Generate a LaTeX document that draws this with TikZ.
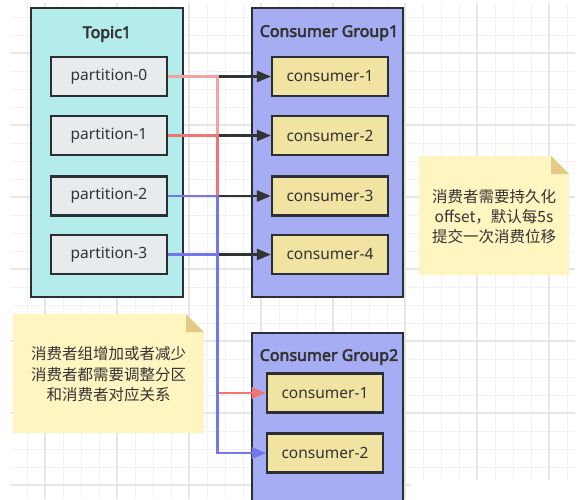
\documentclass[tikz,border=0pt]{standalone}
\usepackage{fontspec}
\setmainfont{Noto Sans}[AutoFakeBold=3.5]
\newfontfamily\cjk{Noto Sans CJK SC}
\usetikzlibrary{arrows.meta,calc}
\definecolor{topicc}{HTML}{B4EBEB}
\definecolor{partc}{HTML}{E8EBEE}
\definecolor{groupc}{HTML}{A7ADF3}
\definecolor{consc}{HTML}{F1E3A2}
\definecolor{notec}{HTML}{FFF5C1}
\definecolor{foldc}{HTML}{E3CB85}
\definecolor{bordc}{HTML}{2B2F33}
\definecolor{txtc}{HTML}{333333}
\definecolor{pinkc}{HTML}{F4A3A3}
\definecolor{redc}{HTML}{EF7575}
\definecolor{bluec}{HTML}{7575EE}
\definecolor{blkc}{HTML}{333333}
\definecolor{gridmin}{HTML}{F2F2F2}
\definecolor{gridmaj}{HTML}{E6E6E6}
\tikzset{
  boxbase/.style={draw=bordc, line width=2.2pt, inner sep=0pt},
  groupbox/.style={boxbase, minimum width=151pt},
  partbox/.style={boxbase, fill=partc, minimum width=116pt, minimum height=39pt,
    font=\fontsize{15.5}{18}\selectfont, text=txtc},
  consbox/.style={boxbase, fill=consc, minimum width=116pt, minimum height=39pt,
    font=\fontsize{15.5}{18}\selectfont, text=txtc},
  titletext/.style={font=\bfseries\fontsize{16}{19}\selectfont, text=txtc, inner sep=0pt},
  notetext/.style={font=\cjk\fontsize{15.5}{20}\selectfont, text=txtc, align=center, inner sep=0pt},
  link/.style={line width=2.4pt, -{Triangle[length=14pt,width=11pt]}},
  blklink/.style={link, draw=blkc},
  pinklink/.style={link, draw=pinkc},
  redlink/.style={link, draw=redc},
  bluelink/.style={link, draw=bluec},
  gminor/.style={draw=gridmin, line width=1pt},
  gmajor/.style={draw=gridmaj, line width=1.2pt},
}
\begin{document}
\begin{tikzpicture}[x=1pt,y=-1pt]
\useasboundingbox (0,0) rectangle (578,499);
\clip (0,0) rectangle (578,499);
\fill[white] (0,0) rectangle (578,499);
% grid
\foreach \x in {27,45,...,567} \draw[gminor] (\x,3) -- (\x,499);
\foreach \y in {17,35,...,485} \draw[gminor] (11,\y) -- (575,\y);
\foreach \x in {45,117,...,549} \draw[gmajor] (\x,3) -- (\x,499);
\foreach \y in {53,125,...,485} \draw[gmajor] (11,\y) -- (575,\y);
\fill[white] (411,480) rectangle (578,499);

% topic
\node[groupbox, fill=topicc, minimum width=152pt, minimum height=289pt] (topic) at (107,152.5) {};
\node[titletext] (ttopic) at (107,34) {Topic1};
\node[partbox] (p0) at (109,76.5) {partition-0};
\node[partbox] (p1) at (109,135.5) {partition-1};
\node[partbox] (p2) at (109,196) {partition-2};
\node[partbox] (p3) at (109,254.5) {partition-3};

% group 1
\node[groupbox, fill=groupc, minimum height=289pt] (g1) at (327.5,152.5) {};
\node[titletext] (tg1) at (329,33) {Consumer Group1};
\node[consbox] (c1) at (330,76.5) {consumer-1};
\node[consbox] (c2) at (330,135.5) {consumer-2};
\node[consbox] (c3) at (330,196) {consumer-3};
\node[consbox] (c4) at (330,254.5) {consumer-4};

% group 2
\node[groupbox, fill=groupc, minimum height=190pt] (g2) at (327.5,428) {};
\node[titletext] (tg2) at (329,357) {Consumer Group2};
\node[consbox] (d1) at (325,393) {consumer-1};
\node[consbox] (d2) at (325,453) {consumer-2};

% notes
\coordinate (n1a) at (419,156);
\coordinate (n1b) at (569,275);
\fill[notec] (n1a) -- ($(n1a -| n1b)+(-18,0)$) -- ($(n1a -| n1b)+(0,18)$) -- (n1b) -- (n1a |- n1b) -- cycle;
\fill[foldc] ($(n1a -| n1b)+(-18,0)$) -- ($(n1a -| n1b)+(-18,18)$) -- ($(n1a -| n1b)+(0,18)$) -- cycle;
\node[notetext] (note1) at ($(n1a)!0.5!(n1b)+(0,1)$) {消费者需要持久化\\offset，默认每5s\\提交一次消费位移};

\coordinate (n2a) at (13,314);
\coordinate (n2b) at (204,433);
\fill[notec] (n2a) -- ($(n2a -| n2b)+(-18,0)$) -- ($(n2a -| n2b)+(0,18)$) -- (n2b) -- (n2a |- n2b) -- cycle;
\fill[foldc] ($(n2a -| n2b)+(-18,0)$) -- ($(n2a -| n2b)+(-18,18)$) -- ($(n2a -| n2b)+(0,18)$) -- cycle;
\node[notetext, font=\cjk\fontsize{15.5}{20.5}\selectfont] (note2) at ($(n2a)!0.5!(n2b)+(0,1)$) {消费者组增加或者减少\\消费者都需要调整分区\\和消费者对应关系};

% connectors
\coordinate (bus) at (217.5,0);
\draw[blklink] (p0.east) -- (c1.west);
\draw[blklink] (p1.east) -- (c2.west);
\draw[blklink] (p2.east) -- (c3.west);
\draw[blklink] (p3.east) -- (c4.west);
\draw[pinklink] (p0.east) -- (p0.east -| bus) |- (d1.west);
\draw[redlink] (p1.east) -- (p1.east -| bus) |- (d1.west);
\draw[bluelink] (p2.east) -- (p2.east -| bus) |- (d2.west);
\draw[bluelink] (p3.east) -- (p3.east -| bus) |- (d2.west);
\end{tikzpicture}
\end{document}
